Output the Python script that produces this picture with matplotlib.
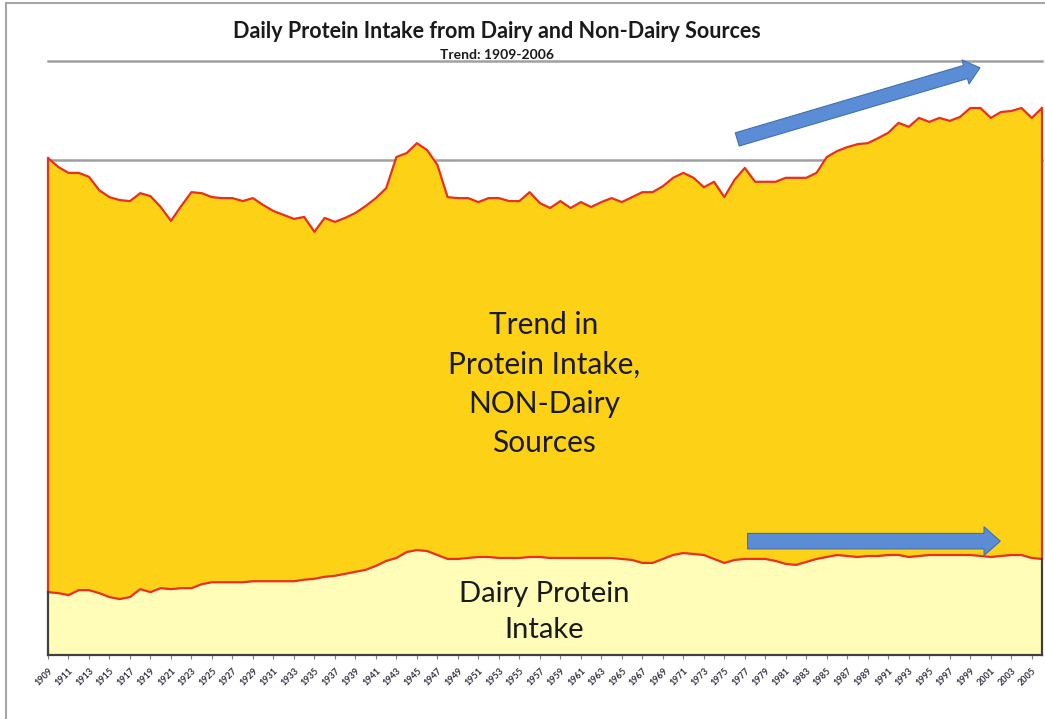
import matplotlib
matplotlib.use("Agg")
import matplotlib.pyplot as plt
from matplotlib.patches import Rectangle

years = list(range(1909, 2007))

# Total daily protein intake (top of the stacked area), g/day (approx.)
total = [100.4, 98.6, 97.4, 97.4, 96.6, 93.9, 92.5, 91.9, 91.7, 93.3,
         92.7, 90.5, 87.7, 90.7, 93.5, 93.3, 92.5, 92.3, 92.3, 91.7,
         92.3, 90.9, 89.7, 88.9, 88.1, 88.5, 85.5, 88.3, 87.5, 88.3,
         89.3, 90.7, 92.3, 94.3, 100.6, 101.4, 103.4, 102.0, 99.0, 92.5,
         92.3, 92.3, 91.5, 92.3, 92.3, 91.7, 91.7, 93.5, 91.3, 90.3,
         91.7, 90.3, 91.5, 90.5, 91.5, 92.3, 91.5, 92.5, 93.5, 93.5,
         94.7, 96.4, 97.4, 96.4, 94.5, 95.6, 92.5, 96.0, 98.4, 95.6,
         95.6, 95.6, 96.4, 96.4, 96.4, 97.4, 100.6, 101.8, 102.6, 103.2,
         103.4, 104.4, 105.5, 107.5, 106.7, 108.5, 107.7, 108.5, 107.9, 108.7,
         110.5, 110.5, 108.5, 109.7, 109.9, 110.5, 108.5, 110.5]

# Dairy protein intake, g/day (approx.)
dairy = [12.7, 12.5, 12.1, 13.1, 13.1, 12.5, 11.7, 11.3, 11.7, 13.3,
         12.7, 13.5, 13.3, 13.5, 13.5, 14.3, 14.7, 14.7, 14.7, 14.7,
         14.9, 14.9, 14.9, 14.9, 14.9, 15.2, 15.4, 15.8, 16.0, 16.4,
         16.8, 17.2, 18.0, 19.0, 19.6, 20.8, 21.2, 21.0, 20.2, 19.4,
         19.4, 19.6, 19.8, 19.8, 19.6, 19.6, 19.6, 19.8, 19.8, 19.6,
         19.6, 19.6, 19.6, 19.6, 19.6, 19.6, 19.4, 19.2, 18.6, 18.6,
         19.4, 20.2, 20.6, 20.4, 20.2, 19.4, 18.6, 19.2, 19.4, 19.4,
         19.4, 19.0, 18.4, 18.2, 18.8, 19.4, 19.8, 20.2, 20.0, 19.8,
         20.0, 20.0, 20.2, 20.2, 19.8, 20.0, 20.2, 20.2, 20.2, 20.2,
         20.2, 20.0, 19.8, 20.0, 20.2, 20.2, 19.6, 19.4]

tick_years = list(range(1909, 2006, 2))
tick_labels = [str(y) for y in tick_years]

title = "Daily Protein Intake from Dairy and Non-Dairy Sources"
subtitle = "Trend: 1909-2006"
label_nondairy = "Trend in\nProtein Intake,\nNON-Dairy\nSources"
label_dairy = "Dairy Protein\nIntake"

FONT = ["Lato", "DejaVu Sans"]
W, H = 1045, 719
fig = plt.figure(figsize=(W / 100, H / 100), dpi=100)
fig.patch.set_facecolor("white")

# outer chart frame
fig.patches.append(Rectangle((6 / W, -0.05), 1.2, 1 - 3 / H + 0.05, transform=fig.transFigure,
                             fill=False, edgecolor="#a6a6a6", linewidth=1.5))

ax = fig.add_axes([48 / W, (H - 655) / H, 994 / W, 594 / H])
ax.set_xlim(1909, 2006)
ax.set_ylim(0, 120)

for gy in [100, 120]:
    ax.axhline(gy, color="#a0a0a0", linewidth=1.8, zorder=0, clip_on=False)

gold = "#FCD116"
pale = "#FFFDB8"
red = "#E8301C"

ax.fill_between(years, dairy, total, color=gold, linewidth=0, zorder=1)
ax.fill_between(years, 0, dairy, color=pale, linewidth=0, zorder=1)
ax.plot(years, total, color=red, linewidth=1.6, zorder=3)
ax.plot(years, dairy, color=red, linewidth=1.6, zorder=3)
ax.plot([years[0], years[0]], [dairy[0], total[0]], color=red, linewidth=1.6, zorder=3, clip_on=False)
ax.plot([years[-1], years[-1]], [dairy[-1], total[-1]], color=red, linewidth=1.6, zorder=3, clip_on=False)
ax.plot([years[0], years[0]], [0, dairy[0]], color="#404040", linewidth=1.6, zorder=3, clip_on=False)
ax.plot([years[-1], years[-1]], [0, dairy[-1]], color="#404040", linewidth=1.6, zorder=3, clip_on=False)

for s in ["top", "right", "left"]:
    ax.spines[s].set_visible(False)
ax.spines["bottom"].set_color("#404040")
ax.spines["bottom"].set_linewidth(1.6)
ax.set_yticks([])
ax.set_xticks(tick_years)
ax.set_xticklabels(tick_labels, rotation=45, ha="right", rotation_mode="anchor",
                   fontsize=6.5, fontweight="bold", family=FONT, color="#333344")
ax.tick_params(axis="x", length=3, color="#808080", pad=5)

# arrows
arrow_kw = dict(arrowstyle="simple,head_length=0.6,head_width=1.0,tail_width=0.55",
                mutation_scale=18, facecolor="#5B8DD6", edgecolor="#3F6FB5", linewidth=0.8)
ax.annotate("", xy=(2000.2, 118.8), xytext=(1976.0, 104.0),
            arrowprops=arrow_kw, zorder=5, annotation_clip=False)
ax.annotate("", xy=(2002.2, 23.0), xytext=(1977.0, 23.0),
            arrowprops=dict(arrowstyle="simple,head_length=0.65,head_width=1.15,tail_width=0.62",
                            mutation_scale=18, facecolor="#5B8DD6", edgecolor="#3F6FB5",
                            linewidth=0.8), zorder=5)

# inner labels
ax.text(1957.4, 54.7, label_nondairy, ha="center", va="center", fontsize=21.5,
        family=FONT, color="#1a1a1a", linespacing=1.5, zorder=6)
ax.text(1957.4, 8.7, label_dairy, ha="center", va="center", fontsize=21,
        family=FONT, color="#1a1a1a", linespacing=1.5, zorder=6)

fig.text(497 / W, 1 - 31 / H, title, ha="center", va="center", fontsize=15.5,
         fontweight="bold", family=FONT, color="#1a1a1a")
fig.text(497 / W, 1 - 55 / H, subtitle, ha="center", va="center", fontsize=10,
         fontweight="bold", family=FONT, color="#1a1a1a")

fig.savefig("out.png", dpi=100, facecolor="white")
